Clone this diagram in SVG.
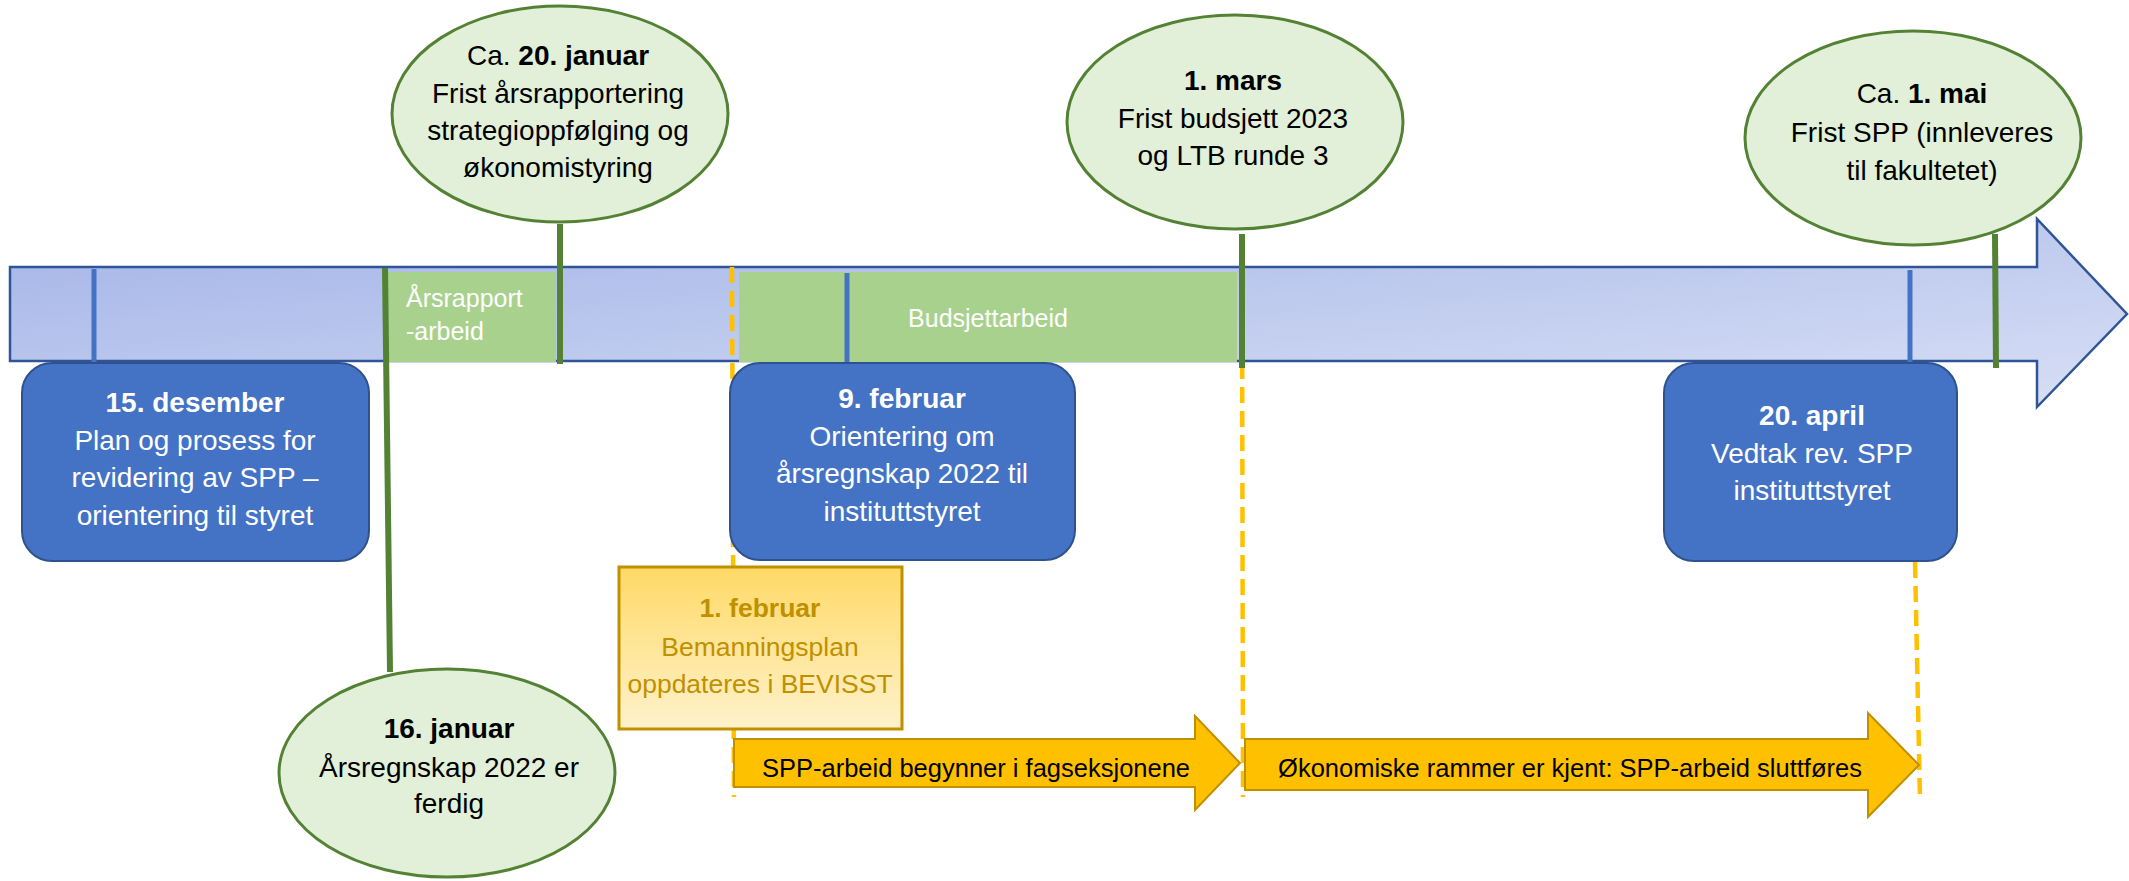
<svg xmlns="http://www.w3.org/2000/svg" width="2129" height="881" viewBox="0 0 2129 881">
<defs>
<linearGradient id="barGrad" x1="0" y1="0" x2="1" y2="1">
<stop offset="0" stop-color="#a3b4e7"/>
<stop offset="1" stop-color="#d8dff5"/>
</linearGradient>
<linearGradient id="yelGrad" x1="0" y1="0" x2="0" y2="1">
<stop offset="0" stop-color="#ffd966"/>
<stop offset="1" stop-color="#fff2cc"/>
</linearGradient>
</defs>
<style>
text{font-family:"Liberation Sans",Arial,sans-serif;}
.bluebox{fill:#4472c4;stroke:#2f528f;stroke-width:2;}
.wt{fill:#ffffff;font-size:28px;text-anchor:middle;}
.bt{fill:#000000;font-size:28px;text-anchor:middle;}
.yt{fill:#bf9000;font-size:26.5px;text-anchor:middle;}
.at{fill:#000000;font-size:25.5px;text-anchor:middle;}
.lbl{fill:#ffffff;font-size:25px;}
.b{font-weight:bold;}
.ell{fill:#e2f0d9;stroke:#548235;stroke-width:3;}
.grect{fill:#a9d18e;}
.btick{stroke:#4472c4;stroke-width:5;fill:none;}
.gtick{stroke:#548235;stroke-width:6;fill:none;}
.dash{stroke:#ffc000;stroke-width:4.5;stroke-dasharray:16 8;fill:none;}
.yarrow{fill:#ffc000;stroke:#bf9000;stroke-width:2;}
</style>

<g id="timeline">
<path d="M10,267 L2037,267 L2037,219 L2127,314 L2037,407 L2037,361 L10,361 Z" fill="url(#barGrad)" stroke="#2f5597" stroke-width="2.5"/>
</g>

<g id="arsrapport-arbeid">
<rect class="grect" x="388" y="272" width="168" height="90"/>
<text class="lbl" x="406" y="307">Årsrapport</text>
<text class="lbl" x="406" y="340">-arbeid</text>
</g>

<g id="budsjettarbeid">
<rect class="grect" x="739" y="272" width="498" height="90"/>
<text class="lbl" x="988" y="327" text-anchor="middle">Budsjettarbeid</text>
</g>

<g id="connectors">
<line class="dash" x1="732" y1="267" x2="734" y2="797"/>
<line class="dash" x1="1242" y1="267" x2="1243" y2="797"/>
<line class="dash" x1="1915" y1="562" x2="1920" y2="800"/>
<line class="btick" x1="94" y1="269" x2="94" y2="365"/>
<line class="btick" x1="847" y1="273" x2="847" y2="365"/>
<line class="btick" x1="1910" y1="270" x2="1910" y2="365"/>
<line class="gtick" x1="560" y1="224" x2="560" y2="364"/>
<line class="gtick" x1="385" y1="268" x2="390" y2="672"/>
<line class="gtick" x1="1242" y1="234" x2="1242" y2="368"/>
<line class="gtick" x1="1995" y1="234" x2="1996" y2="368"/>
</g>

<g id="node-15-desember">
<rect class="bluebox" x="22" y="363" width="347" height="198" rx="30" ry="30"/>
<text class="wt b" x="195" y="412">15. desember</text>
<text class="wt" x="195" y="449.5">Plan og prosess for</text>
<text class="wt" x="195" y="487">revidering av SPP –</text>
<text class="wt" x="195" y="524.5">orientering til styret</text>
</g>

<g id="node-9-februar">
<rect class="bluebox" x="730" y="363" width="345" height="197" rx="30" ry="30"/>
<text class="wt b" x="902" y="408">9. februar</text>
<text class="wt" x="902" y="445.5">Orientering om</text>
<text class="wt" x="902" y="483">årsregnskap 2022 til</text>
<text class="wt" x="902" y="520.5">instituttstyret</text>
</g>

<g id="node-20-april">
<rect class="bluebox" x="1664" y="363" width="293" height="198" rx="30" ry="30"/>
<text class="wt b" x="1812" y="425">20. april</text>
<text class="wt" x="1812" y="463">Vedtak rev. SPP</text>
<text class="wt" x="1812" y="500">instituttstyret</text>
</g>

<g id="node-1-februar">
<rect x="619" y="567" width="283" height="162" fill="url(#yelGrad)" stroke="#bf9000" stroke-width="3"/>
<text class="yt b" x="760" y="617">1. februar</text>
<text class="yt" x="760" y="656">Bemanningsplan</text>
<text class="yt" x="760" y="693">oppdateres i BEVISST</text>
</g>

<g id="arrow-spp-begynner">
<path class="yarrow" d="M734,739 L1195,739 L1195,716 L1240,763 L1195,810 L1195,787 L734,787 Z"/>
<text class="at" x="976" y="777">SPP-arbeid begynner i fagseksjonene</text>
</g>

<g id="arrow-spp-sluttfores">
<path class="yarrow" d="M1245,739 L1868,739 L1868,713 L1919,765 L1868,817 L1868,790 L1245,790 Z"/>
<text class="at" x="1570" y="777">Økonomiske rammer er kjent: SPP-arbeid sluttføres</text>
</g>

<g id="node-ca-20-januar">
<ellipse class="ell" cx="560" cy="114" rx="168" ry="108"/>
<text class="bt" x="558" y="65">Ca. <tspan class="b">20. januar</tspan></text>
<text class="bt" x="558" y="103">Frist årsrapportering</text>
<text class="bt" x="558" y="140">strategioppfølging og</text>
<text class="bt" x="558" y="177">økonomistyring</text>
</g>

<g id="node-1-mars">
<ellipse class="ell" cx="1235" cy="122" rx="168" ry="107"/>
<text class="bt b" x="1233" y="90">1. mars</text>
<text class="bt" x="1233" y="128">Frist budsjett 2023</text>
<text class="bt" x="1233" y="165">og LTB runde 3</text>
</g>

<g id="node-ca-1-mai">
<ellipse class="ell" cx="1913" cy="138" rx="168" ry="107"/>
<text class="bt" x="1922" y="103">Ca. <tspan class="b">1. mai</tspan></text>
<text class="bt" x="1922" y="142">Frist SPP (innleveres</text>
<text class="bt" x="1922" y="180">til fakultetet)</text>
</g>

<g id="node-16-januar">
<ellipse class="ell" cx="447" cy="773" rx="168" ry="104"/>
<text class="bt b" x="449" y="738">16. januar</text>
<text class="bt" x="449" y="777">Årsregnskap 2022 er</text>
<text class="bt" x="449" y="813">ferdig</text>
</g>
</svg>
